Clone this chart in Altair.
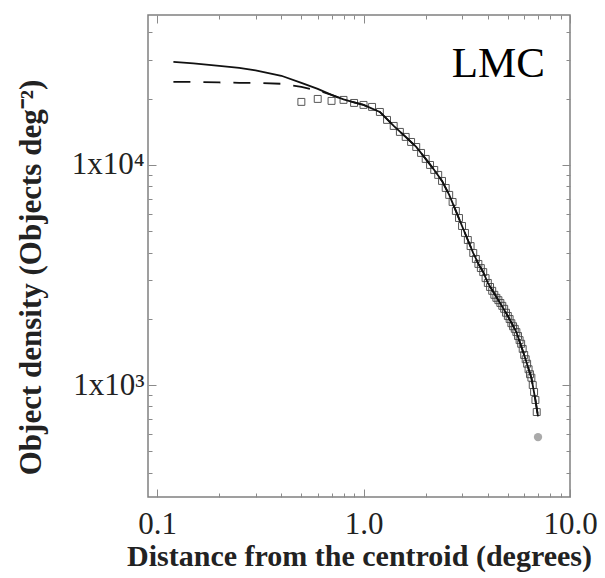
import altair as alt
import pandas as pd

# ---- data ----
sq_r = [0.5, 0.6, 0.7, 0.8, 0.9, 1.0, 1.1, 1.2, 1.3, 1.4, 1.5, 1.6, 1.7, 1.8, 1.9,
        2.0, 2.1, 2.2, 2.3, 2.4, 2.5, 2.6, 2.7, 2.8, 2.9, 3.0, 3.1, 3.2, 3.3, 3.4,
        3.5, 3.6, 3.7, 3.8, 3.9, 4.0, 4.1, 4.2, 4.3, 4.4, 4.5, 4.6, 4.7, 4.8, 4.9,
        5.0, 5.1, 5.2, 5.3, 5.4, 5.5, 5.6, 5.7, 5.8, 5.9, 6.0, 6.1, 6.2, 6.3, 6.4,
        6.5, 6.6, 6.7, 6.8, 6.9]
sq_d = [19340, 19950, 19540, 19750, 19130, 18740, 18350, 17410, 16020, 15040,
        14130, 13410, 12720, 12070, 11340, 10650, 10000, 9490, 9010, 8460,
        7860, 7310, 6790, 6180, 5740, 5280, 4910, 4560, 4280, 3980,
        3740, 3550, 3400, 3260, 3060, 2910, 2790, 2680, 2570, 2490,
        2430, 2360, 2290, 2220, 2130, 2060, 1995, 1910, 1850, 1800,
        1740, 1670, 1600, 1540, 1460, 1370, 1310, 1250, 1180, 1120,
        1080, 1000, 930, 855, 754]

last_r = [7.0]
last_d = [580]

solid_r = [0.12, 0.15, 0.2, 0.25, 0.3, 0.4, 0.5, 0.6, 0.7, 0.8, 0.9, 1.0, 1.2, 1.4,
           1.6, 1.8, 2.0, 2.2, 2.4, 2.6, 2.8, 3.0, 3.2, 3.4, 3.6, 3.8, 4.0, 4.5,
           5.0, 5.5, 6.0, 6.5, 6.8, 7.0]
solid_d = [29380, 28930, 28180, 27600, 26900, 25420, 23610, 22150, 20800, 19850,
           19240, 18740, 17410, 15040, 13410, 12070, 10650, 9490, 8460, 7310,
           6180, 5280, 4560, 3980, 3550, 3260, 2910, 2430, 2060, 1740, 1370,
           1080, 855, 720]

dash_r = [0.12, 0.15, 0.2, 0.25, 0.3, 0.4, 0.5, 0.6, 0.7, 0.8, 0.9, 1.0, 1.2, 1.4,
          1.6, 1.8, 2.0, 2.2, 2.4, 2.6, 2.8, 3.0, 3.2, 3.4, 3.6, 3.8, 4.0, 4.5,
          5.0, 5.5, 6.0, 6.5, 6.8, 7.0]
dash_d = [23840, 23840, 23700, 23610, 23610, 23370, 22610, 21800, 20800, 19850,
          19240, 18740, 17410, 15040, 13410, 12070, 10650, 9490, 8460, 7310,
          6180, 5280, 4560, 3980, 3550, 3260, 2910, 2430, 2060, 1740, 1370,
          1080, 855, 720]

label_r = [7.57]
label_d = [25120]
label_t = ["LMC"]

x_major = [0.1, 1.0, 10.0]
x_minor = [0.2, 0.3, 0.4, 0.5, 0.6, 0.7, 0.8, 0.9, 2, 3, 4, 5, 6, 7, 8, 9]
y_major = [1000, 10000]
y_minor = [400, 500, 600, 700, 800, 900, 2000, 3000, 4000, 5000, 6000, 7000,
           8000, 9000, 20000, 30000, 40000]

x_title = "Distance from the centroid (degrees)"
y_title = "Object density (Objects deg\u207b\u00b2)"

# ---- chart ----
SERIF = "Liberation Serif"
TICK = "#8a8a8a"
xs = alt.Scale(type="log", domain=[0.0904, 10])
ys = alt.Scale(type="log", domain=[310, 48000])

sq_df = pd.DataFrame({"r": sq_r, "d": sq_d})
last_df = pd.DataFrame({"r": last_r, "d": last_d})
solid_df = pd.DataFrame({"r": solid_r, "d": solid_d})
dash_df = pd.DataFrame({"r": dash_r, "d": dash_d})
lab_df = pd.DataFrame({"r": label_r, "d": label_d, "t": label_t})


def plain_axis(orient, values, size):
    return alt.Axis(orient=orient, values=values, tickSize=size, offset=-size,
                    domain=False, grid=False, labels=False, title=None,
                    tickColor=TICK, tickWidth=1)


squares = alt.Chart(sq_df).mark_point(
    shape="square", filled=False, size=48, strokeWidth=1, color="#444", opacity=0.9
).encode(
    x=alt.X("r:Q", scale=xs, axis=alt.Axis(
        orient="bottom", values=x_major, tickSize=8, offset=-8, domain=False,
        grid=False, format=".1f", labelFlush=False, labelFont=SERIF,
        labelFontSize=31, labelColor="#222", labelPadding=12,
        tickColor=TICK, tickWidth=1,
        title=x_title, titleFont=SERIF, titleFontSize=30, titleFontWeight="bold",
        titleColor="#222", titlePadding=2)),
    y=alt.Y("d:Q", scale=ys, axis=alt.Axis(
        orient="left", values=y_major, tickSize=8, offset=-8, domain=False,
        grid=False, labelExpr="datum.value > 5000 ? '1x10\u2074' : '1x10\u00b3'",
        labelFont=SERIF, labelFontSize=31, labelColor="#222", labelPadding=4,
        tickColor=TICK, tickWidth=1,
        title=y_title, titleFont=SERIF, titleFontSize=31, titleFontWeight="bold",
        titleColor="#222", titlePadding=24, titleY=262)),
)

solid = alt.Chart(solid_df).mark_line(color="#111", strokeWidth=1.8).encode(
    x=alt.X("r:Q", scale=xs, axis=plain_axis("bottom", x_minor, 4)),
    y=alt.Y("d:Q", scale=ys, axis=plain_axis("left", y_minor, 4)),
)

dashed = alt.Chart(dash_df).mark_line(color="#111", strokeWidth=1.8,
                                      strokeDash=[17, 13]).encode(
    x=alt.X("r:Q", scale=xs, axis=plain_axis("top", x_major, 8)),
    y=alt.Y("d:Q", scale=ys, axis=plain_axis("right", y_major, 8)),
)

last = alt.Chart(last_df).mark_point(shape="circle", filled=True, size=70,
                                     color="#aaaaaa", opacity=1).encode(
    x=alt.X("r:Q", scale=xs, axis=plain_axis("top", x_minor, 4)),
    y=alt.Y("d:Q", scale=ys, axis=plain_axis("right", y_minor, 4)),
)

label = alt.Chart(lab_df).mark_text(align="right", baseline="alphabetic",
                                    font=SERIF, fontSize=43, color="black").encode(
    x=alt.X("r:Q", scale=xs, axis=None),
    y=alt.Y("d:Q", scale=ys, axis=None),
    text="t:N",
)

chart = alt.layer(squares, solid, dashed, last, label).resolve_axis(
    x="independent", y="independent"
).properties(
    width=422, height=482,
    padding={"left": 148, "top": 15, "right": 35, "bottom": 81},
    autosize="none",
    background="white",
).configure_view(stroke="#808080", strokeWidth=1.5)

chart.save("out.html", embed_options={"renderer": "svg", "actions": False})
